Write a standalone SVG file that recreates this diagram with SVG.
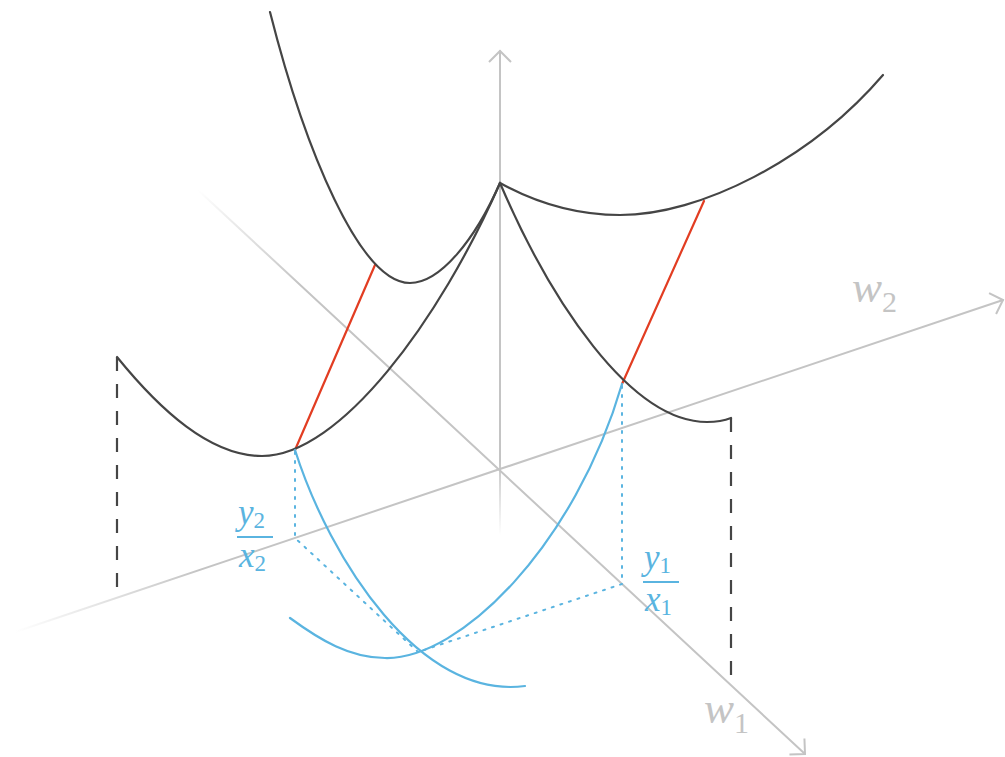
<svg xmlns="http://www.w3.org/2000/svg" width="1005" height="757" viewBox="0 0 1005 757">
<style>
.axis{fill:none;stroke-width:2;stroke-linecap:round}
.blk{fill:none;stroke:#454545;stroke-width:2.2;stroke-linecap:round;stroke-linejoin:round}
.dash{fill:none;stroke:#454545;stroke-width:2.2;stroke-dasharray:14 13}
.red{fill:none;stroke:#e23d22;stroke-width:2.2;stroke-linecap:round}
.blue{fill:none;stroke:#5ab4e0;stroke-width:2.2;stroke-linecap:round}
.dot{fill:none;stroke:#5ab4e0;stroke-width:2;stroke-dasharray:2 7;stroke-linecap:round}
.lbl{font-family:"Liberation Serif",serif;font-style:italic}
.gl{fill:#c4c4c4;font-size:45px}
.bl{fill:#5ab4e0;font-size:35px}
.sub{font-style:normal}
</style>
<defs>
<marker id="chev" markerUnits="userSpaceOnUse" markerWidth="30" markerHeight="30" refX="0" refY="0" viewBox="-15 -15 30 30" orient="auto" overflow="visible">
<path d="M-11,-11 L0,0 L-11,11" fill="none" stroke="#c4c4c4" stroke-width="2"/>
</marker>
<linearGradient id="gv" gradientUnits="userSpaceOnUse" x1="500" y1="460" x2="500" y2="535">
<stop offset="0" stop-color="#c4c4c4"/><stop offset="1" stop-color="#c4c4c4" stop-opacity="0"/>
</linearGradient>
<linearGradient id="g1" gradientUnits="userSpaceOnUse" x1="300" y1="285" x2="198" y2="190">
<stop offset="0" stop-color="#c4c4c4"/><stop offset="1" stop-color="#c4c4c4" stop-opacity="0"/>
</linearGradient>
<linearGradient id="g2" gradientUnits="userSpaceOnUse" x1="200" y1="570" x2="15" y2="632">
<stop offset="0" stop-color="#c4c4c4"/><stop offset="1" stop-color="#c4c4c4" stop-opacity="0"/>
</linearGradient>
</defs>

<g id="axes">
<line class="axis" x1="500" y1="535" x2="500" y2="51" stroke="url(#gv)" marker-end="url(#chev)"/>
<line class="axis" x1="198" y1="190" x2="805" y2="754" stroke="url(#g1)" marker-end="url(#chev)"/>
<line class="axis" x1="15" y1="632" x2="1003" y2="300" stroke="url(#g2)" marker-end="url(#chev)"/>
</g>

<g id="connectors">
<path class="dash" d="M117,357 L117,592"/>
<path class="dash" d="M731,418 L731,680"/>
<path class="red" d="M295,450 L375,265"/>
<path class="red" d="M622,384 L704,201"/>
<path class="dot" d="M295,452 L295,538 L418,652"/>
<path class="dot" d="M622,386 L622,584 L418,652"/>
</g>

<g id="surface-back">
<path class="blk" d="M270,12 C305,150 360,283 410,283 C440,283 475,240 500,183"/>
<path class="blk" d="M500,183 C540,205 580,215 620,215 C700,215 810,160 883,75"/>
</g>
<g id="surface-front">
<path class="blk" d="M117,357 C160,410 210,456 262,456 C340,456 440,320 500,183"/>
<path class="blk" d="M500,183 C550,300 630,422 707,422 C718,422 726,420 731,418"/>
</g>
<g id="blue-curves">
<path class="blue" d="M295,450 C330,560 420,700 525,686"/>
<path class="blue" d="M290,618 C320,640 350,658 385,658 C460,660 575,545 622,384"/>
</g>

<g id="label-w2"><text class="lbl gl" x="852" y="302">w<tspan class="sub" font-size="30" dy="10">2</tspan></text></g>
<g id="label-w1"><text class="lbl gl" x="704" y="723">w<tspan class="sub" font-size="30" dy="10">1</tspan></text></g>
<g id="label-y2x2">
<text class="lbl bl" x="238" y="524">y<tspan class="sub" font-size="23" dy="4">2</tspan></text>
<line x1="237" y1="537" x2="273" y2="537" stroke="#5ab4e0" stroke-width="2"/>
<text class="lbl bl" x="239" y="567">x<tspan class="sub" font-size="23" dy="4">2</tspan></text>
</g>
<g id="label-y1x1">
<text class="lbl bl" x="644" y="569">y<tspan class="sub" font-size="23" dy="4">1</tspan></text>
<line x1="643" y1="582" x2="679" y2="582" stroke="#5ab4e0" stroke-width="2"/>
<text class="lbl bl" x="645" y="611">x<tspan class="sub" font-size="23" dy="4">1</tspan></text>
</g>
</svg>
